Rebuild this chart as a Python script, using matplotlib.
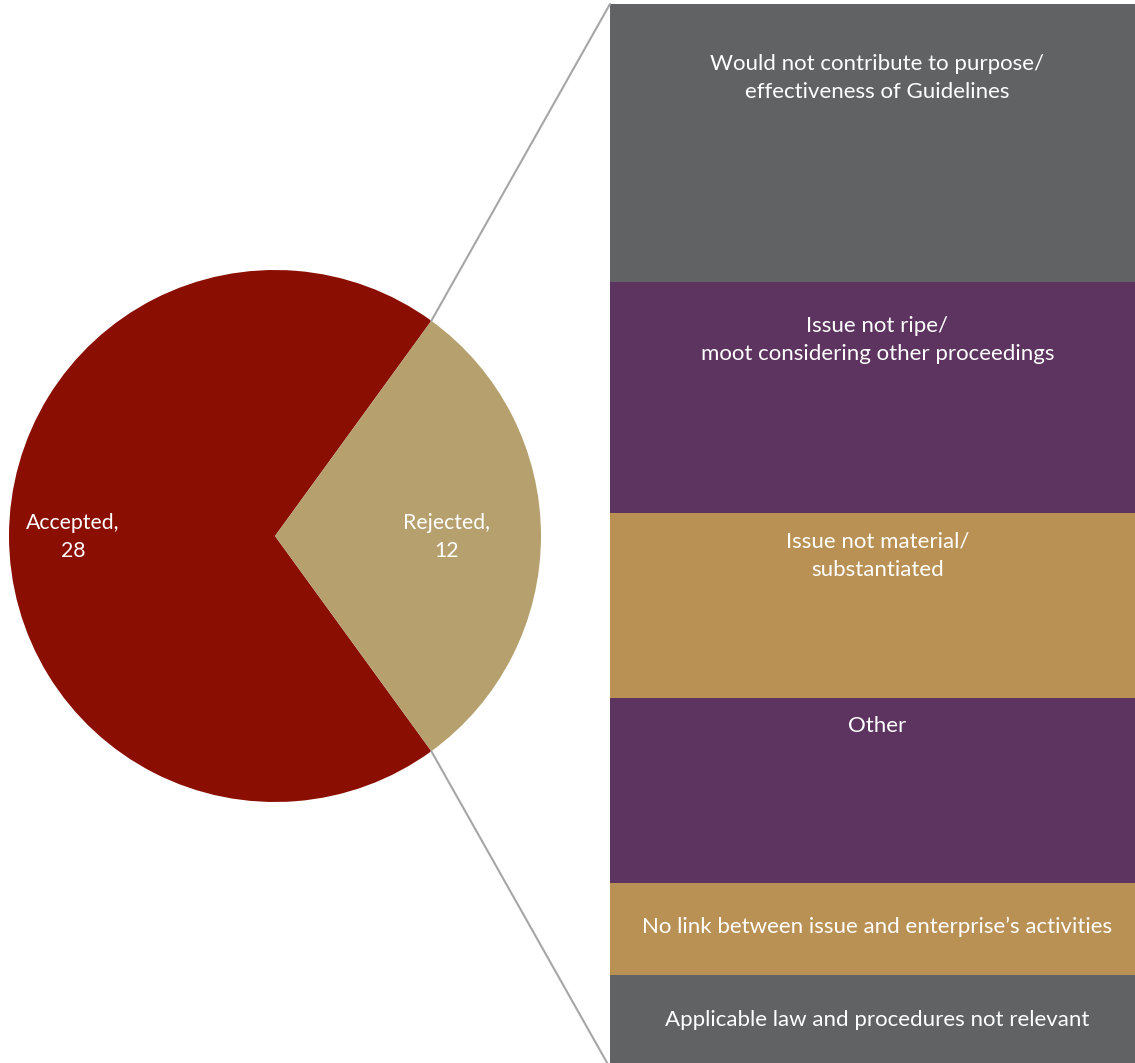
import matplotlib.pyplot as plt
from matplotlib.patches import ConnectionPatch
import numpy as np

plt.rcParams['font.family'] = ['Lato', 'DejaVu Sans']

# main pie
pie_labels = ['Accepted', 'Rejected']
pie_values = [28, 12]
pie_colors = ['#8B0E03', '#B5A06E']

# breakdown of rejected, top to bottom
reasons = ['Would not contribute to purpose/\neffectiveness of Guidelines',
           'Issue not ripe/\nmoot considering other proceedings',
           'Issue not material/\nsubstantiated',
           'Other',
           'No link between issue and enterprise\u2019s activities',
           'Applicable law and procedures not relevant']
reason_values = [6, 5, 4, 4, 2, 2]
reason_colors = ['#616264', '#5C345F', '#BA9154', '#5C345F', '#BA9154', '#616264']

W, H = 1135, 1063
fig = plt.figure(figsize=(W / 100, H / 100), dpi=100)

# pie axes: centre (275, 536) px, radius 266 px
cx, cy, r = 275, 536, 266
ax = fig.add_axes([(cx - r) / W, (H - cy - r) / H, 2 * r / W, 2 * r / H])
half = 360 * pie_values[1] / sum(pie_values) / 2
wedges, _ = ax.pie(pie_values, colors=pie_colors, startangle=half, counterclock=True,
                   wedgeprops=dict(linewidth=0))
ax.set_xlim(-1, 1)
ax.set_ylim(-1, 1)
ax.set_aspect('equal')
ax.axis('off')

# data labels
for w, lab, val, dist in zip(wedges, pie_labels, pie_values, [0.76, 0.645]):
    ang = np.deg2rad((w.theta1 + w.theta2) / 2)
    ax.text(dist * np.cos(ang), dist * np.sin(ang) - 0.005, f'{lab},\n{val}',
            ha='center', va='center', color='white', fontsize=15.3, linespacing=1.5)

# stacked bar axes (bar runs slightly past the bottom/right edges)
bx0, bx1, btop, bbot = 610, 1145, 4, 1068
bax = fig.add_axes([bx0 / W, (H - bbot) / H, (bx1 - bx0) / W, (bbot - btop) / H])
total = sum(reason_values)
px_per_unit = (bbot - btop) / total
bottom = total
# distance (px) from segment top to label centre; None = centred
pads = [74, 58, 43, 28, None, None]
for name, val, col, pad in zip(reasons, reason_values, reason_colors, pads):
    bottom -= val
    bax.bar(0, val, bottom=bottom, width=1, color=col, linewidth=0)
    if pad is None:
        y = bottom + val / 2 + 2 / px_per_unit
    else:
        y = bottom + val - pad / px_per_unit
    bax.text(0, y, name, ha='center', va='center', color='white',
             fontsize=16, linespacing=1.5)
bax.set_xlim(-0.5, 0.5)
bax.set_ylim(0, total)
bax.axis('off')

# connector lines
ang = np.deg2rad(half)
for sgn, yb in [(1, total), (-1, 0)]:
    con = ConnectionPatch(xyA=(np.cos(ang), sgn * np.sin(ang)), coordsA=ax.transData,
                          xyB=(-0.5, yb), coordsB=bax.transData,
                          color='#A6A6A6', linewidth=1.5)
    fig.add_artist(con)

fig.savefig('out.png', dpi=100)
